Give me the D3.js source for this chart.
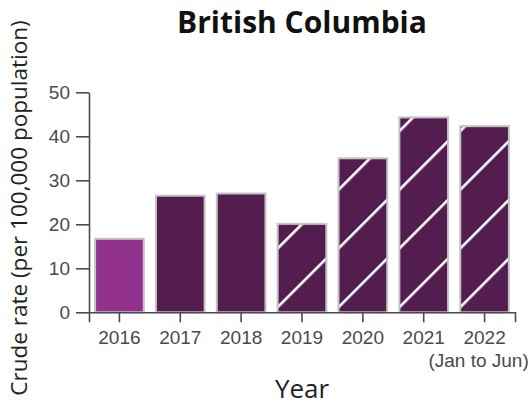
<!DOCTYPE html>
<html>
<head>
<meta charset="utf-8">
<script src="https://cdn.jsdelivr.net/npm/d3@7"></script>
<style>
  body { margin: 0; background: #fff; }
  #graph svg { display: block; }
</style>
</head>
<body>
<div id="graph"></div>
<script>
const years = ["2016", "2017", "2018", "2019", "2020", "2021", "2022"];
const rates = [16.7, 26.5, 27.0, 20.1, 35.0, 44.3, 42.3];
const hatched = [false, false, false, true, true, true, true];
const yTicks = [0, 10, 20, 30, 40, 50];
const partialYearNote = "(Jan to Jun)";

const width = 531, height = 411;
const plotLeft = 89, plotRight = 515, plotTop = 92.3, plotBottom = 312.3;
const lightBar = "#93328e", darkBar = "#541d4f";

const svg = d3.select("#graph")
    .append("svg")
    .attr("width", width)
    .attr("height", height);

const xScale = d3.scaleBand()
    .domain(years)
    .range([plotLeft, plotRight])
    .paddingInner(0.2)
    .paddingOuter(0.1);

const yScale = d3.scaleLinear()
    .domain([0, 50])
    .range([plotBottom, plotTop]);

const data = years.map((y, i) => ({ year: y, rate: rates[i], hatched: hatched[i] }));

// one stripe pattern per bar so the stripes start at each bar's bottom-left
const defs = svg.append("defs");
data.filter(d => d.hatched).forEach(d => {
    const x0 = xScale(d.year), y0 = yScale(0) - 7;
    const pat = defs.append("pattern")
        .attr("id", "hatch-" + d.year)
        .attr("patternUnits", "userSpaceOnUse")
        .attr("width", 10)
        .attr("height", 41.5)
        .attr("patternTransform", "translate(" + x0 + "," + y0 + ") rotate(-45)");
    pat.append("rect")
        .attr("x", 0).attr("y", 0)
        .attr("width", 10).attr("height", 2.6)
        .attr("fill", "#fff");
});

const bars = svg.append("g").attr("class", "bars");

bars.selectAll("rect.base")
    .data(data)
    .enter().append("rect")
    .attr("class", "base")
    .attr("x", d => xScale(d.year))
    .attr("y", d => yScale(d.rate))
    .attr("width", xScale.bandwidth())
    .attr("height", d => yScale(0) - yScale(d.rate))
    .attr("fill", (d, i) => i === 0 ? lightBar : darkBar);

bars.selectAll("rect.hatch")
    .data(data.filter(d => d.hatched))
    .enter().append("rect")
    .attr("class", "hatch")
    .attr("x", d => xScale(d.year))
    .attr("y", d => yScale(d.rate))
    .attr("width", xScale.bandwidth())
    .attr("height", d => yScale(0) - yScale(d.rate))
    .attr("fill", d => "url(#hatch-" + d.year + ")");

bars.selectAll("rect.edge")
    .data(data)
    .enter().append("rect")
    .attr("class", "edge")
    .attr("x", d => xScale(d.year))
    .attr("y", d => yScale(d.rate))
    .attr("width", xScale.bandwidth())
    .attr("height", d => yScale(0) - yScale(d.rate))
    .attr("fill", "none")
    .attr("stroke", "#c4c4c4")
    .attr("stroke-width", 2);

const axisColor = "#4a4a4a";
const tickFont = "'Liberation Sans', Arial, sans-serif";

const yAxis = svg.append("g")
    .attr("transform", "translate(" + plotLeft + ",0)")
    .call(d3.axisLeft(yScale).tickValues(yTicks).tickSize(13).tickSizeOuter(0).tickPadding(6));

const xAxis = svg.append("g")
    .attr("transform", "translate(0," + plotBottom + ")")
    .call(d3.axisBottom(xScale).tickSize(10).tickSizeOuter(10).tickPadding(8));

[xAxis, yAxis].forEach(g => {
    g.select(".domain").attr("stroke", axisColor).attr("stroke-width", 1.6);
    g.selectAll(".tick line").attr("stroke", axisColor).attr("stroke-width", 1.6);
    g.selectAll(".tick text")
        .attr("fill", "#4a4a4a")
        .attr("font-family", tickFont)
        .attr("font-size", 19);
});

xAxis.selectAll(".tick")
    .filter(d => d === years[years.length - 1])
    .append("text")
    .attr("x", -6)
    .attr("y", 18)
    .attr("dy", "1.95em")
    .attr("text-anchor", "middle")
    .attr("fill", "#4a4a4a")
    .attr("font-family", tickFont)
    .attr("font-size", 19)
    .text(partialYearNote);

svg.append("text")
    .attr("x", (plotLeft + plotRight) / 2)
    .attr("y", 33)
    .attr("text-anchor", "middle")
    .attr("font-family", "'Open Sans', sans-serif")
    .attr("font-weight", "bold")
    .attr("font-size", 30)
    .attr("fill", "#111")
    .text("British Columbia");

svg.append("text")
    .attr("x", (plotLeft + plotRight) / 2)
    .attr("y", 398)
    .attr("text-anchor", "middle")
    .attr("font-family", "'Open Sans', sans-serif")
    .attr("font-size", 26)
    .attr("fill", "#222")
    .text("Year");

svg.append("text")
    .attr("transform", "translate(27,208) rotate(-90)")
    .attr("text-anchor", "middle")
    .attr("font-family", "'Open Sans', sans-serif")
    .attr("font-size", 22.5)
    .attr("fill", "#222")
    .text("Crude rate (per 100,000 population)");
</script>
</body>
</html>
